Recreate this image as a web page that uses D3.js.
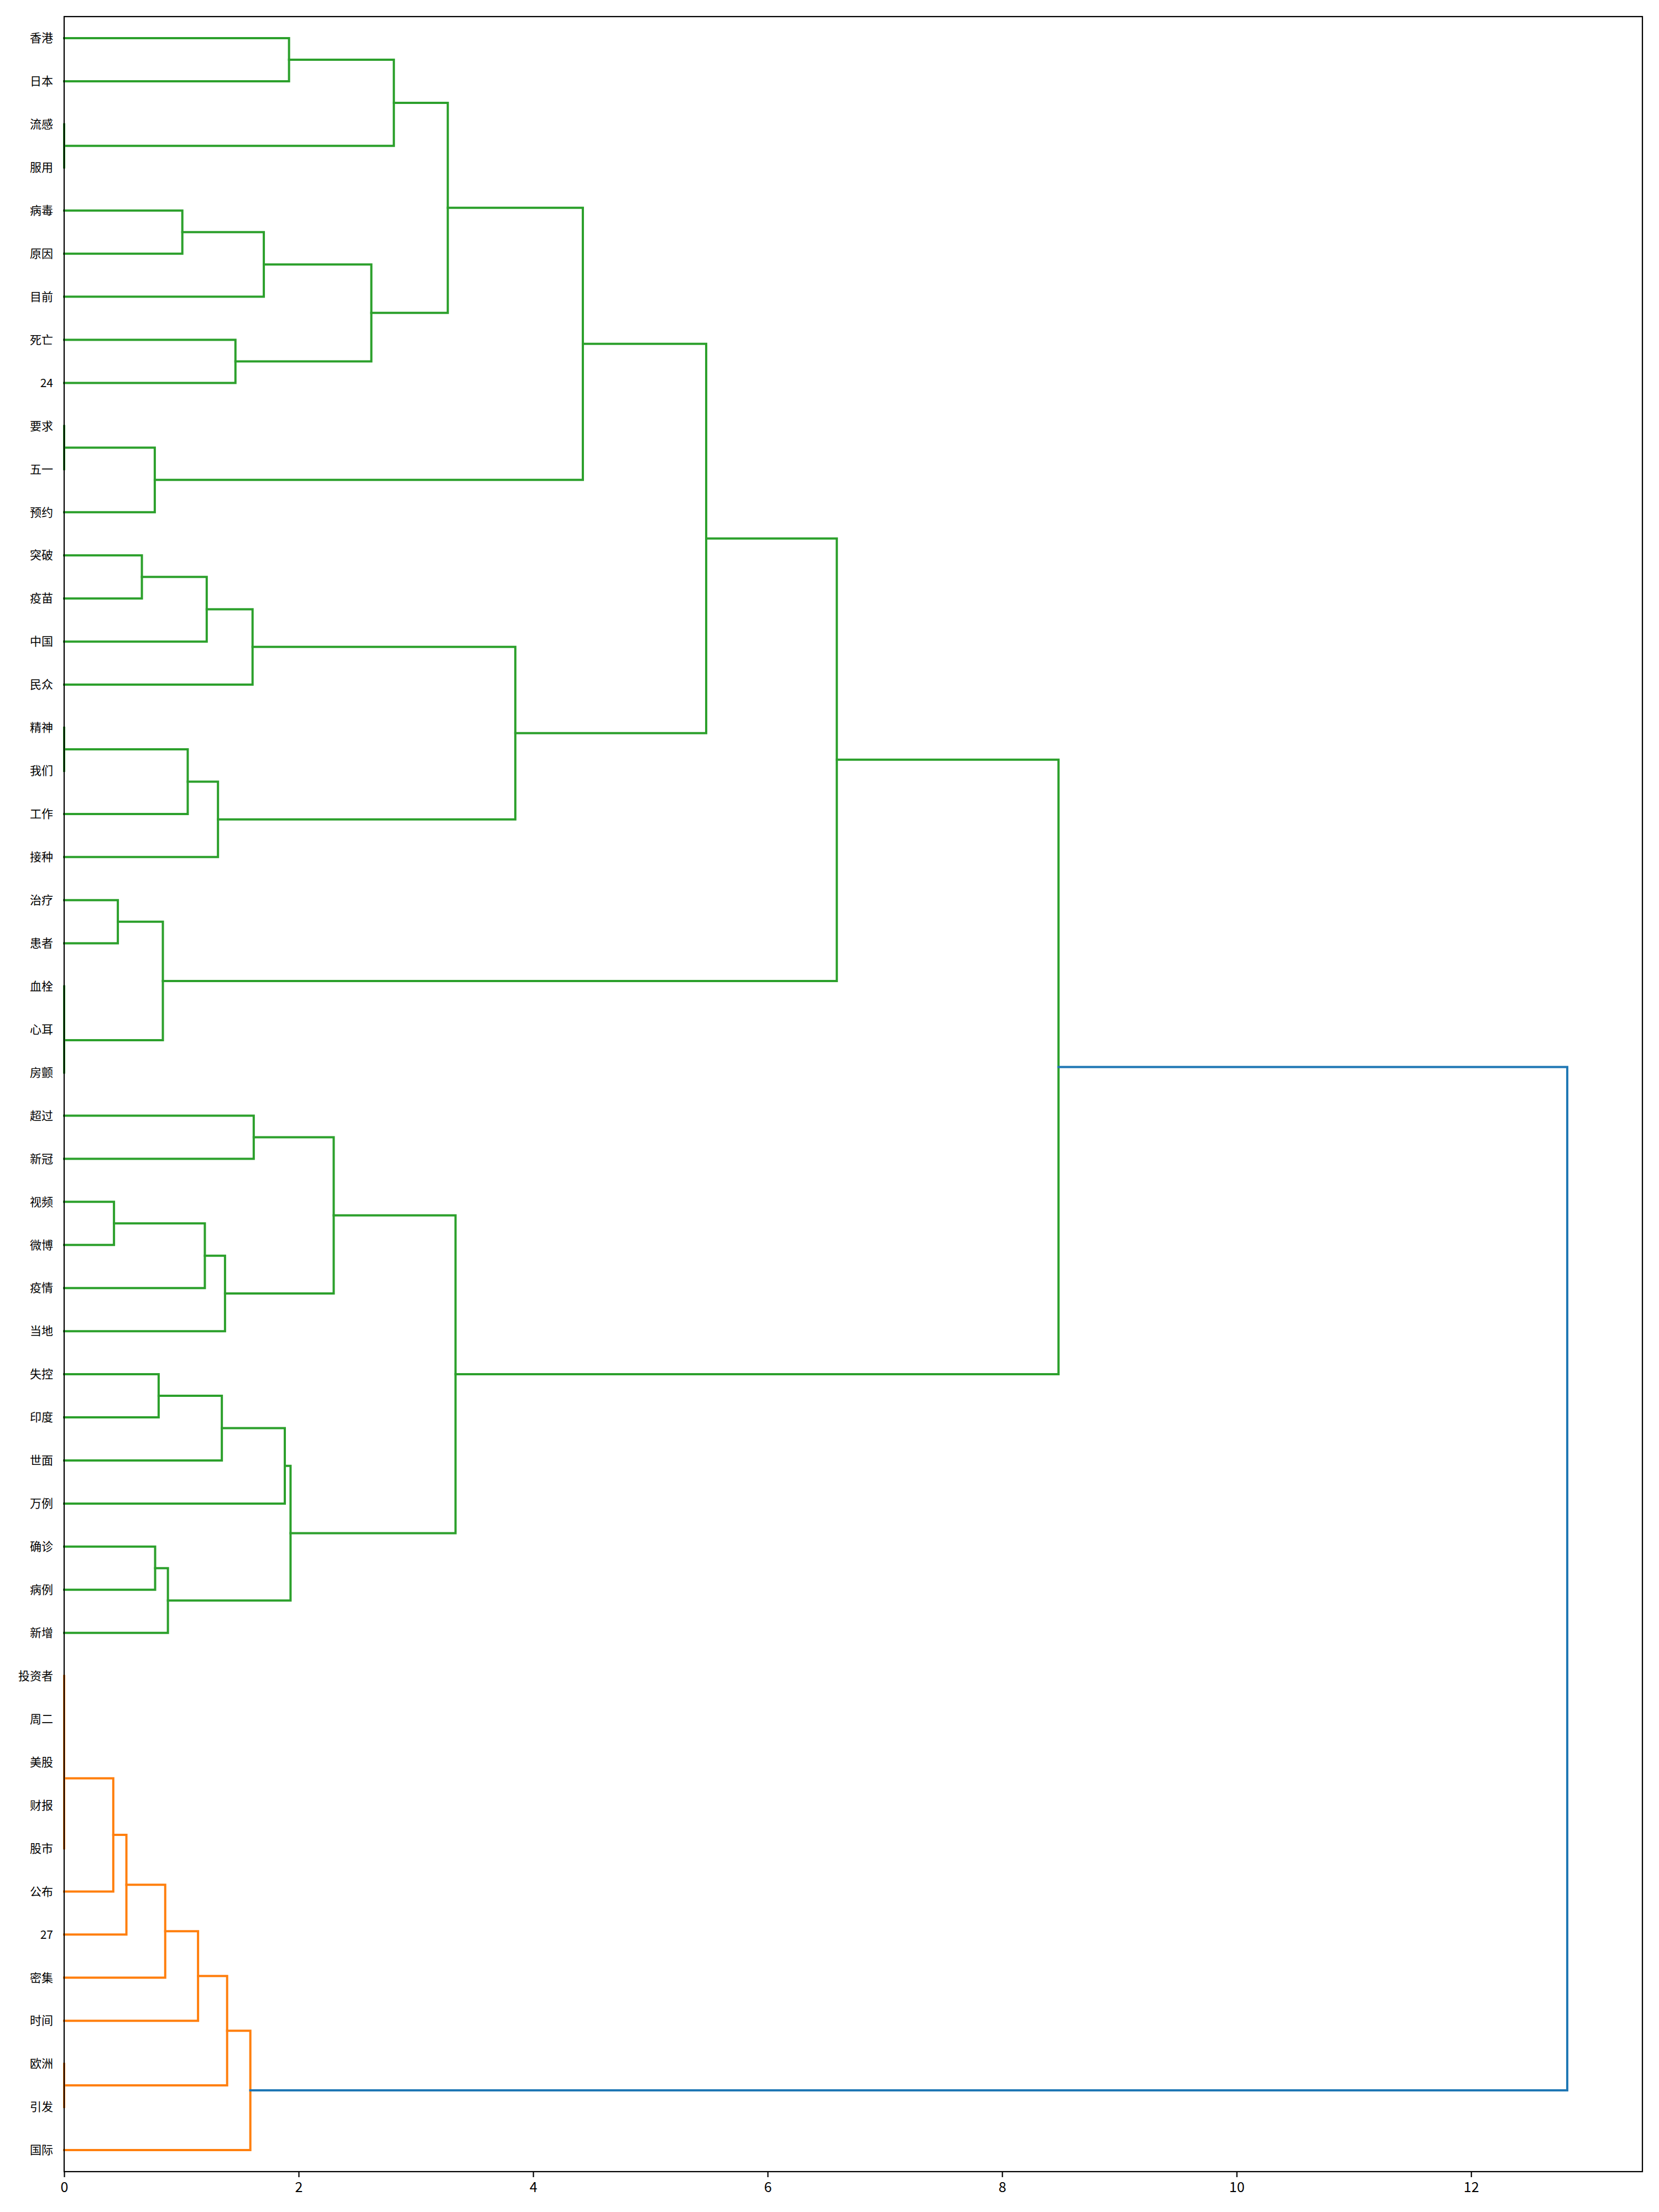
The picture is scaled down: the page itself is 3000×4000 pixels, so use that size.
<!DOCTYPE html>
<html>
<head>
<meta charset="utf-8">
<script src="https://cdn.jsdelivr.net/npm/d3@7"></script>
<style>
  html, body { margin: 0; padding: 0; background: #ffffff; }
  svg { display: block; }
  text { font-family: "Noto Sans CJK SC", "DejaVu Sans", sans-serif; fill: #000; }
</style>
</head>
<body>
<svg id="chart" width="3000" height="4000"></svg>
<script>
// Leaf labels, top to bottom
const leaves = ["香港","日本","流感","服用","病毒","原因","目前","死亡","24","要求",
  "五一","预约","突破","疫苗","中国","民众","精神","我们","工作","接种",
  "治疗","患者","血栓","心耳","房颤","超过","新冠","视频","微博","疫情",
  "当地","失控","印度","世面","万例","确诊","病例","新增","投资者","周二",
  "美股","财报","股市","公布","27","密集","时间","欧洲","引发","国际"];

// Merges: left child id, right child id (0-49 are leaves, 50+ are earlier merges)
const mergeLeft  = [2, 0, 51, 4, 53, 7, 54, 52, 9, 58, 57, 12, 61, 62, 16, 64, 65, 63, 60, 20,
  22, 70, 69, 68, 25, 27, 75, 76, 74, 31, 79, 80, 35, 82, 81, 78, 73, 38, 87, 41,
  88, 90, 91, 92, 93, 47, 94, 96, 86];
const mergeRight = [3, 1, 50, 5, 6, 8, 55, 56, 10, 11, 59, 13, 14, 15, 17, 18, 19, 66, 67, 21,
  23, 24, 71, 72, 26, 28, 29, 30, 77, 32, 33, 34, 36, 37, 83, 84, 85, 39, 40, 42,
  89, 43, 44, 45, 46, 48, 95, 49, 97];
// Merge distances
const mergeHeight = [0, 1.918, 2.812, 1.008, 1.703, 1.461, 2.620, 3.272, 0, 0.773,
  4.424, 0.663, 1.216, 1.607, 0, 1.054, 1.312, 3.848, 5.476, 0.458,
  0, 0, 0.842, 6.590, 1.617, 0.425, 1.200, 1.372, 2.299, 0.806,
  1.345, 1.882, 0.776, 0.885, 1.931, 3.338, 8.481, 0, 0,
  0, 0, 0.419, 0.531, 0.862, 1.142, 0, 1.390, 1.588, 12.82];

const xTicks = [0, 2, 4, 6, 8, 10, 12];
const palette = ["#1f77b4", "#ff7f0e", "#2ca02c"]; // above-threshold, cluster 1, cluster 2

// ---------- layout ----------
const L = 116, R = 2970, T = 30, B = 3927;
const n = leaves.length;
const maxH = d3.max(mergeHeight);
const x = d3.scaleLinear().domain([0, maxH * 1.05]).range([L, R]);
// scipy coordinates: leaf k (from bottom) at 5 + 10k; domain 0..10n
const y = d3.scaleLinear().domain([0, 10 * n]).range([B, T]);
const leafPos = i => 5 + 10 * (n - 1 - i);

// node positions
const nodeY = [], nodeH = [];
leaves.forEach((l, i) => { nodeY[i] = leafPos(i); nodeH[i] = 0; });
const links = [];
mergeLeft.forEach((a, k) => {
  const b = mergeRight[k], id = n + k, h = mergeHeight[k];
  nodeY[id] = (nodeY[a] + nodeY[b]) / 2;
  nodeH[id] = h;
  links.push({ id, a, b, h });
});

// colouring like scipy: subtrees below threshold get cluster colours
const threshold = 0.7 * maxH;
const nodeColor = {};
const rootId = n + mergeLeft.length - 1;
let clusterIdx = 0;
function children(id) { return id < n ? [] : [mergeLeft[id - n], mergeRight[id - n]]; }
function paint(id, c) { nodeColor[id] = c; children(id).forEach(ch => paint(ch, c)); }
function assign(id) {
  if (id < n) return;
  if (nodeH[id] < threshold) {
    clusterIdx += 1;
    paint(id, palette[1 + ((clusterIdx - 1) % (palette.length - 1))]);
  } else {
    nodeColor[id] = palette[0];
    // traverse lower (bottom) child first, as scipy orders from the bottom
    const ch = children(id).slice().sort((p, q) => nodeY[p] - nodeY[q]);
    ch.forEach(assign);
  }
}
assign(rootId);

const svg = d3.select("#chart");
svg.append("rect").attr("width", 3000).attr("height", 4000).attr("fill", "#fff");

const line = d3.line().x(d => x(d[0])).y(d => y(d[1]));
svg.append("g").selectAll("path").data(links).join("path")
  .attr("d", d => line([[nodeH[d.a], nodeY[d.a]], [d.h, nodeY[d.a]], [d.h, nodeY[d.b]], [nodeH[d.b], nodeY[d.b]]]))
  .attr("fill", "none")
  .attr("stroke", d => nodeColor[d.id])
  .attr("stroke-width", 4)
  .attr("stroke-linejoin", "miter")
  .attr("stroke-linecap", "square");

// x axis
const xAxis = d3.axisBottom(x).tickValues(xTicks).tickFormat(d3.format("d")).tickSize(10).tickPadding(9);
const gx = svg.append("g").attr("transform", `translate(0,${B})`).call(xAxis);
gx.select(".domain").remove();
gx.selectAll(".tick line").attr("stroke", "#000").attr("stroke-width", 2.2);
gx.selectAll(".tick text").attr("font-size", 25).attr("font-family", "Noto Sans CJK SC");

// y axis (leaf labels)
const yAxis = d3.axisLeft(y).tickValues(leaves.map((l, i) => leafPos(i)))
  .tickFormat((d) => leaves[n - 1 - (d - 5) / 10]).tickSize(0).tickPadding(20);
const gy = svg.append("g").attr("transform", `translate(${L},0)`).call(yAxis);
gy.select(".domain").remove();
gy.selectAll(".tick text").attr("font-size", 21).attr("font-family", "Noto Sans CJK SC");

// frame (spines)
svg.append("rect").attr("x", L).attr("y", T).attr("width", R - L).attr("height", B - T)
  .attr("fill", "none").attr("stroke", "#000").attr("stroke-width", 2.2);
</script>
</body>
</html>
